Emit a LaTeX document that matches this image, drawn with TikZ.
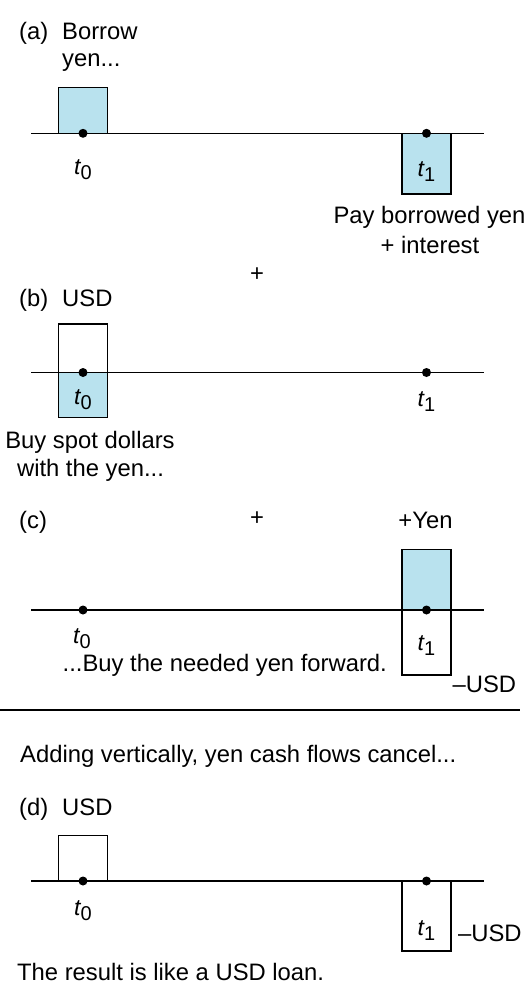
\documentclass[tikz,border=0pt]{standalone}
\usepackage{fontspec}
\setmainfont{Liberation Sans}
\definecolor{cfblue}{RGB}{185,226,238}
\newcommand{\tlab}[1]{{\fontsize{23}{26}\selectfont\textit{t}}\kern-0.8pt\raisebox{-5pt}{\fontsize{20}{24}\selectfont #1}}
\begin{document}
\begin{tikzpicture}[x=1pt,y=-1pt,
  every node/.style={inner sep=0pt, font=\fontsize{23.8}{28}\selectfont},
  tline/.style={line width=1.4pt},
  cfbox/.style={line width=1.4pt, draw=black},
  bluebox/.style={cfbox, fill=cfblue},
  whitebox/.style={cfbox, fill=white},
  dotmark/.style={circle, fill=black, inner sep=0pt, minimum size=9pt},
  lab/.style={anchor=base west},
  clab/.style={anchor=base}]
\useasboundingbox (0,0) rectangle (525,1005);

% ---------- (a) ----------
\coordinate (aL) at (31,133.3);
\coordinate (aR) at (484,133.3);
\filldraw[bluebox] (58.5,87.5) rectangle (107.5,133.3);
\filldraw[bluebox] (402,133.3) rectangle (451,194);
\draw[tline] (aL) -- (aR);
\node[dotmark] (a0) at (83,133.3) {};
\node[dotmark] (a1) at (426.5,133.3) {};
\node[lab] (alab) at (19,39.5) {(a)};
\node[lab] (aborrow) at (62,39.5) {Borrow};
\node[lab] (ayen) at (62,66.7) {yen...};
\node[clab] (at0) at (83,174) {\tlab{0}};
\node[clab] (at1) at (426.5,176.5) {\tlab{1}};
\node[clab] (apay) at (429.5,223.5) {Pay borrowed yen};
\node[clab] (aint) at (430,253) {+ interest};
\node (plus1) at (257,275) {+};

% ---------- (b) ----------
\coordinate (bL) at (31,372.5);
\coordinate (bR) at (484,372.5);
\filldraw[whitebox] (58.5,324) rectangle (107.5,372.5);
\filldraw[bluebox] (58.5,372.5) rectangle (107.5,417.7);
\draw[tline] (bL) -- (bR);
\node[dotmark] (b0) at (83,372.5) {};
\node[dotmark] (b1) at (426.5,372.5) {};
\node[lab] (blab) at (19,306) {(b)};
\node[lab] (busd) at (62,306) {USD};
\node[clab] (bt0) at (83,404.3) {\tlab{0}};
\node[clab] (bt1) at (426.5,406.5) {\tlab{1}};
\node[clab] (bbuy) at (90,448.3) {Buy spot dollars};
\node[clab] (bwith) at (90.5,476.7) {with the yen...};
\node (plus2) at (257,519) {+};

% ---------- (c) ----------
\coordinate (cL) at (31,610);
\coordinate (cR) at (484,610);
\filldraw[bluebox] (402,549.3) rectangle (451,610);
\filldraw[whitebox] (402,610) rectangle (451,675);
\draw[tline] (cL) -- (cR);
\node[dotmark] (c0) at (83,610) {};
\node[dotmark] (c1) at (426.5,610) {};
\node[lab] (clabel) at (19,528) {(c)};
\node[clab] (cyen) at (425.5,528) {+Yen};
\node[clab] (ct0) at (82,643.5) {\tlab{0}};
\node[clab] (ct1) at (426.5,650) {\tlab{1}};
\node[lab] (cbuy) at (62.5,671) {...Buy the needed yen forward.};
\node[lab] (cusd) at (452.5,692) {--USD};

% ---------- separator ----------
\coordinate (sL) at (0,710);
\coordinate (sR) at (520,710);
\draw[tline] (sL) -- (sR);
\node[lab] (adding) at (20,762) {Adding vertically, yen cash flows cancel...};

% ---------- (d) ----------
\coordinate (dL) at (31,881);
\coordinate (dR) at (484,881);
\filldraw[whitebox] (58.5,835.5) rectangle (107.5,881);
\filldraw[whitebox] (402,881) rectangle (451,951);
\draw[tline] (dL) -- (dR);
\node[dotmark] (d0) at (83,881) {};
\node[dotmark] (d1) at (426.5,881) {};
\node[lab] (dlab) at (19,815) {(d)};
\node[lab] (dusd) at (62,815) {USD};
\node[clab] (dt0) at (83,915) {\tlab{0}};
\node[clab] (dt1) at (426.5,935) {\tlab{1}};
\node[lab] (dmusd) at (458,941.5) {--USD};
\node[lab] (dres) at (17,980) {The result is like a USD loan.};
\end{tikzpicture}
\end{document}
